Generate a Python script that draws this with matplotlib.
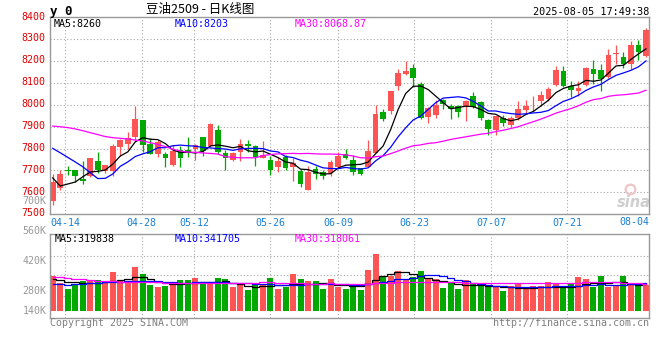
import numpy as np
import matplotlib
matplotlib.use('Agg')
import matplotlib.pyplot as plt
from matplotlib.transforms import ScaledTranslation

plt.rcParams['font.family'] = 'DejaVu Sans Mono'

# ---- data (豆油2509, daily, 2025-04-10 .. 2025-08-04) ----
opens = [7562, 7622, 7700, 7701, 7661, 7676, 7743, 7699, 7699, 7808,
         7822, 7853, 7929, 7823, 7774, 7777, 7726, 7793, 7793, 7800,
         7853, 7813, 7884, 7778, 7747, 7785, 7820, 7811, 7758, 7750,
         7717, 7762, 7717, 7699, 7611, 7705, 7691, 7687, 7714, 7775,
         7747, 7712, 7717, 7782, 7966, 7971, 8086, 8141, 8167, 8097,
         7945, 7954, 8021, 7994, 7994, 7996, 8042, 8012, 7933, 7884,
         7940, 7908, 7939, 7978, 8012, 8016, 8028, 8092, 8153, 8085,
         8062, 8092, 8165, 8158, 8127, 8231, 8219, 8185, 8272, 8222]
highs = [7684, 7701, 7720, 7701, 7743, 7758, 7784, 7724, 7819, 7844,
         7876, 7996, 7929, 7850, 7838, 7785, 7815, 7811, 7853, 7820,
         7853, 7919, 7910, 7793, 7785, 7843, 7839, 7816, 7834, 7765,
         7763, 7770, 7755, 7705, 7720, 7720, 7702, 7747, 7785, 7796,
         7770, 7712, 7838, 7998, 7983, 8065, 8165, 8199, 8185, 8105,
         7991, 8024, 8028, 8006, 7998, 8021, 8057, 8016, 7936, 7948,
         7952, 7948, 8016, 8021, 8039, 8062, 8082, 8178, 8180, 8107,
         8107, 8173, 8203, 8188, 8257, 8276, 8244, 8292, 8295, 8352]
lows = [7544, 7610, 7677, 7647, 7638, 7672, 7689, 7689, 7676, 7766,
        7799, 7838, 7785, 7774, 7762, 7714, 7721, 7714, 7762, 7747,
        7767, 7808, 7774, 7702, 7743, 7744, 7785, 7720, 7755, 7679,
        7694, 7702, 7653, 7623, 7611, 7659, 7661, 7676, 7710, 7752,
        7677, 7679, 7714, 7778, 7927, 7956, 8067, 8138, 8082, 7937,
        7917, 7942, 7983, 7937, 7945, 7927, 7987, 7933, 7862, 7864,
        7902, 7899, 7930, 7960, 7971, 7993, 8018, 8084, 8081, 8036,
        8039, 8086, 8094, 8062, 8122, 8188, 8170, 8162, 8203, 8218]
closes = [7647, 7683, 7697, 7676, 7653, 7755, 7701, 7724, 7811, 7838,
          7849, 7934, 7816, 7777, 7831, 7756, 7789, 7758, 7784, 7815,
          7788, 7914, 7785, 7755, 7778, 7820, 7811, 7763, 7773, 7702,
          7744, 7712, 7732, 7638, 7694, 7684, 7674, 7737, 7765, 7758,
          7694, 7684, 7788, 7960, 7936, 8065, 8148, 8153, 8123, 7942,
          7986, 7998, 8003, 7983, 7968, 8016, 7991, 7939, 7889, 7948,
          7918, 7942, 7981, 7994, 8014, 8044, 8071, 8158, 8086, 8070,
          8077, 8168, 8139, 8117, 8226, 8238, 8185, 8272, 8244, 8343]

ma5 = [7666, 7629, 7638, 7647, 7671, 7693, 7696, 7702, 7729, 7766,
       7785, 7831, 7850, 7843, 7841, 7823, 7794, 7782, 7784, 7780,
       7787, 7812, 7817, 7811, 7804, 7810, 7790, 7785, 7789, 7774,
       7759, 7739, 7733, 7706, 7704, 7692, 7684, 7685, 7711, 7724,
       7726, 7728, 7738, 7777, 7812, 7887, 7979, 8052, 8085, 8086,
       8070, 8040, 8010, 7982, 7988, 7994, 7992, 7979, 7961, 7957,
       7937, 7927, 7935, 7956, 7970, 7995, 8021, 8056, 8075, 8086,
       8092, 8112, 8108, 8114, 8145, 8178, 8181, 8208, 8233, 8256]
ma10 = [7801, 7781, 7760, 7739, 7717, 7690, 7663, 7664, 7684, 7719,
        7739, 7764, 7776, 7786, 7804, 7804, 7813, 7816, 7813, 7811,
        7805, 7803, 7800, 7798, 7792, 7799, 7801, 7801, 7800, 7789,
        7785, 7764, 7759, 7747, 7739, 7725, 7712, 7709, 7708, 7714,
        7709, 7706, 7712, 7744, 7768, 7806, 7854, 7895, 7931, 7949,
        7979, 8010, 8031, 8034, 8037, 8032, 8016, 7995, 7972, 7972,
        7965, 7960, 7957, 7959, 7963, 7966, 7974, 7996, 8016, 8028,
        8044, 8066, 8082, 8094, 8116, 8135, 8146, 8158, 8174, 8201]
ma30 = [7903, 7900, 7896, 7890, 7882, 7873, 7864, 7855, 7850, 7847,
        7844, 7839, 7835, 7827, 7819, 7809, 7797, 7789, 7784, 7783,
        7780, 7778, 7775, 7763, 7760, 7758, 7758, 7758, 7768, 7773,
        7776, 7777, 7778, 7777, 7778, 7776, 7775, 7775, 7774, 7771,
        7766, 7758, 7757, 7763, 7766, 7777, 7789, 7802, 7813, 7817,
        7824, 7827, 7834, 7842, 7848, 7854, 7860, 7866, 7870, 7878,
        7884, 7892, 7900, 7912, 7923, 7935, 7948, 7962, 7973, 7983,
        7996, 8012, 8024, 8029, 8039, 8044, 8046, 8050, 8054, 8067]

# volume, thousands of lots
volume = [350, 318, 288, 307, 327, 324, 330, 318, 367, 327,
          318, 392, 358, 307, 297, 304, 322, 330, 330, 339,
          321, 322, 339, 335, 297, 316, 283, 314, 311, 339,
          288, 297, 358, 335, 325, 325, 288, 335, 297, 288,
          311, 283, 377, 451, 345, 349, 372, 333, 342, 372,
          335, 335, 293, 319, 288, 330, 314, 307, 307, 302,
          279, 302, 318, 294, 302, 302, 321, 311, 294, 311,
          344, 335, 299, 350, 299, 304, 350, 307, 307, 307]
vol_ma5 = [333, 330, 322, 319, 316, 314, 314, 319, 327, 330,
           333, 342, 346, 333, 319, 314, 311, 313, 314, 318,
           319, 321, 322, 324, 316, 310, 302, 299, 300, 304,
           307, 308, 310, 310, 311, 313, 316, 314, 308, 305,
           304, 302, 310, 330, 347, 356, 366, 367, 358, 347,
           339, 330, 327, 322, 313, 308, 307, 305, 304, 300,
           297, 296, 294, 294, 293, 296, 299, 299, 299, 299,
           304, 311, 318, 318, 316, 322, 319, 313, 308, 310]
vol_ma10 = [311, 310, 308, 310, 313, 316, 318, 319, 321, 322,
            324, 325, 327, 327, 325, 321, 319, 318, 318, 319,
            319, 319, 319, 319, 318, 316, 314, 313, 311, 310,
            308, 308, 308, 308, 310, 311, 313, 311, 310, 310,
            308, 308, 310, 318, 321, 324, 333, 336, 341, 347,
            353, 355, 350, 341, 330, 324, 318, 311, 307, 304,
            302, 299, 299, 299, 299, 299, 299, 300, 302, 302,
            304, 305, 308, 310, 308, 308, 308, 310, 311, 314]
vol_ma30 = [346, 342, 339, 336, 333, 330, 327, 325, 324, 322,
            321, 319, 319, 319, 319, 318, 318, 318, 316, 316,
            314, 314, 314, 314, 314, 316, 318, 318, 319, 319,
            318, 316, 314, 314, 313, 313, 313, 314, 313, 311,
            310, 310, 313, 316, 318, 318, 319, 319, 319, 319,
            319, 319, 319, 319, 319, 318, 318, 318, 318, 316,
            316, 316, 316, 314, 314, 314, 314, 316, 316, 318,
            318, 319, 319, 321, 321, 319, 318, 316, 314, 313]

date_labels = ['04-14', '04-28', '05-12', '05-26', '06-09', '06-23', '07-07', '07-21']
last_label = '08-04'
price_ticks = [7500, 7600, 7700, 7800, 7900, 8000, 8100, 8200, 8300, 8400]
vol_ticks = [700, 560, 420, 280, 140]
price_ma_text = ['MA5:8260', 'MA10:8203', 'MA30:8068.87']
vol_ma_text = ['MA5:319838', 'MA10:341705', 'MA30:318061']

# ---- styling ----
RED = '#ff5454'
GREEN = '#00a800'
GRID = '#a8a8a8'
FRAME = '#999999'
MA_COL = ['black', '#0000ff', '#ff00ff']
W, H = 660.0, 360.0


def fx(x):
    return x / W


def fy(y):
    return 1 - y / H


fig = plt.figure(figsize=(6.6, 3.6), dpi=100)
fig.patch.set_facecolor('white')

ax = fig.add_axes([fx(50), fy(214.2), 599.3 / W, (214.2 - 17.4) / H])
axv = fig.add_axes([fx(50), fy(318.3), 599.3 / W, 84.0 / H], sharex=ax)

x = np.arange(len(closes))
o = np.array(opens)
c = np.array(closes)
up = c >= o
colors = np.where(up, RED, GREEN)

# grid positions (fractional candle index where sina draws its date lines)
tick_x = [1.64, 11.85, 18.85, 28.93, 38.03, 48.15, 58.36, 68.48]

for a in (ax, axv):
    for s in a.spines.values():
        s.set_color(FRAME)
        s.set_linewidth(1.0)
    for t in tick_x:
        a.axvline(t, color=GRID, lw=0.8, ls=(0, (1, 2)), zorder=0)

# price panel
ax.set_xlim(-0.36, 79.44)
ax.set_ylim(7500, 8400)
for p in price_ticks[1:-1]:
    ax.axhline(p, color=GRID, lw=0.8, ls=(0, (1, 2)), zorder=0)
ax.vlines(x, lows, highs, colors=colors, lw=0.9, zorder=2)
body_lo = np.minimum(o, c)
body_h = np.maximum(np.abs(c - o), 2)
ax.bar(x, body_h, 0.76, bottom=body_lo, color=colors, linewidth=0, zorder=2)
for vals, col in zip((ma5, ma10, ma30), MA_COL):
    ax.plot(x, vals, color=col, lw=0.9, zorder=3)

ax.set_yticks(price_ticks)
ax.set_yticklabels([str(p) for p in price_ticks])
ax.tick_params(axis='y', length=0, pad=3, labelcolor='#e00000', labelsize=7.2)
# sina prints the price labels a couple of pixels above their lines
lift = ScaledTranslation(0, 1.8 / 100, fig.dpi_scale_trans)
for lab in ax.get_yticklabels():
    lab.set_transform(lab.get_transform() + lift)
ax.set_xticks(tick_x)
ax.set_xticklabels(date_labels)
ax.tick_params(axis='x', length=0, pad=2.6, labelcolor='#1a80d0', labelsize=7.2)
ax.text(1.0, (214.2 - 221.7) / 196.8, last_label, transform=ax.transAxes,
        ha='right', va='center', color='#1a80d0', fontsize=7.2)

# sina watermark
ax.text(0.975, 0.06, 'sina', transform=ax.transAxes, ha='center', va='center',
        fontsize=10.5, style='italic', weight='bold', color='#cfcfcf',
        family='DejaVu Sans', zorder=1)
ax.plot([0.968], [0.13], 'o', transform=ax.transAxes, ms=7, mfc='none',
        mec='#f0c4c4', mew=1.6, zorder=1)

# volume panel
base = 185.3
axv.set_ylim(151.2, 543.2)
vol = np.array(volume)
axv.bar(x, vol - base, 0.8, bottom=base, color=colors, linewidth=0, zorder=2)
for vals, col in zip((vol_ma5, vol_ma10, vol_ma30), MA_COL):
    axv.plot(x, vals, color=col, lw=0.9, drawstyle='steps-mid', zorder=3)
for f in (0.27, 0.51, 0.745):
    axv.plot([0, 1], [f, f], transform=axv.transAxes, color=GRID, lw=0.8,
             ls=(0, (1, 2)), zorder=0)
axv.set_yticks([])
axv.tick_params(axis='x', length=0, labelbottom=False)
vol_label_y = [700, 560, 420, 280, 186.7]
for v, yv in zip(vol_ticks, vol_label_y):
    axv.text(-0.006, yv, '%dK' % v, transform=axv.get_yaxis_transform(),
             ha='right', va='center', color='#999999', fontsize=7.2, clip_on=False)

# header texts
fig.text(fx(50), fy(11), 'y 0', ha='left', va='center', fontsize=9,
         weight='bold', color='black')
fig.text(fx(200), fy(10), '豆油2509 - 日K线图', ha='center', va='center',
         fontsize=9, color='black', family=['Noto Sans CJK SC', 'DejaVu Sans'])
fig.text(fx(649), fy(12), '2025-08-05 17:49:38', ha='right', va='center',
         fontsize=7.3, color='black')

for txt, col, px in zip(price_ma_text, MA_COL, (54, 175, 295)):
    fig.text(fx(px), fy(24), txt, ha='left', va='center', fontsize=7.2, color=col)
for txt, col, px in zip(vol_ma_text, MA_COL, (54.5, 175, 295)):
    fig.text(fx(px), fy(238.5), txt, ha='left', va='center', fontsize=7.2, color=col)

fig.text(fx(50), fy(323.5), 'Copyright 2025 SINA.COM', ha='left', va='center',
         fontsize=7.2, color='#808080')
fig.text(fx(649), fy(323.5), 'http://finance.sina.com.cn', ha='right', va='center',
         fontsize=7.2, color='#808080')

fig.savefig('out.png', dpi=100, facecolor='white')
